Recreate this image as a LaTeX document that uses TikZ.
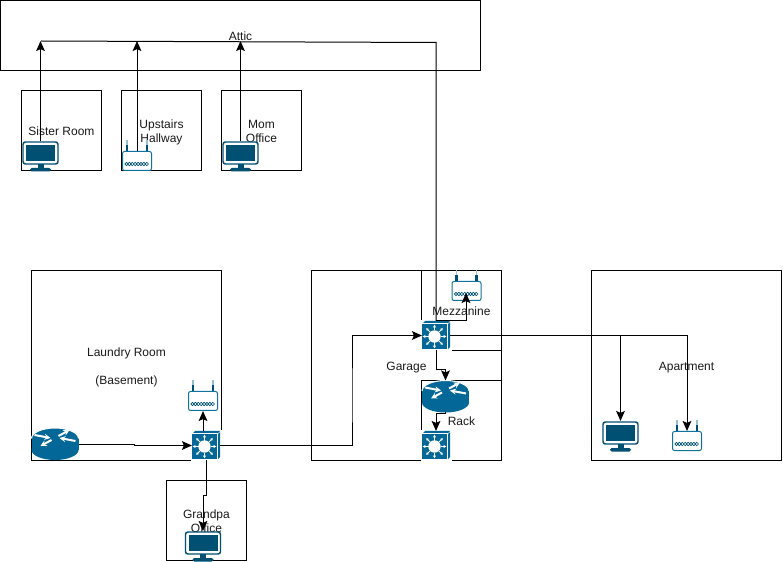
\documentclass[tikz,border=0pt]{standalone}
\usepackage{fontspec}
\setmainfont{Liberation Sans}
\usepackage{xcolor}
\usetikzlibrary{arrows.meta}

\definecolor{ciscoblue}{HTML}{036897}
\definecolor{monitorblue}{HTML}{005073}
\definecolor{wifiblue}{HTML}{10739E}

\begin{document}
\begin{tikzpicture}[
    x=0.75pt, y=-0.75pt,
    room/.style={rectangle, draw, line width=0.75pt, align=center, inner sep=0pt, text=black!90,
        font=\fontsize{9}{10.5}\selectfont,
        execute at begin node={\rule{0pt}{11pt}}, execute at end node={\rule[-3pt]{0pt}{3pt}}},
    smallroom/.style={room, minimum width=60pt, minimum height=60pt},
    bigroom/.style={room, minimum width=142.5pt, minimum height=142.5pt},
    roomtext/.style={room, draw=none},
    arrow/.style={-{Stealth[inset=1.4pt, length=7.5pt, width=6.5pt]}, line width=0.75pt},
    wire/.style={line width=0.75pt},
    iconbox/.style={rectangle, anchor=north west, inner sep=0pt, outer sep=0pt},
    pics/monitor/.style={code={
        \node[iconbox, minimum width=27.75pt, minimum height=22.5pt] (-box) at (0,0) {};
        \draw[monitorblue, line width=1.1pt, fill=white, rounded corners=1.8pt] (1,1) rectangle (36,23);
        \fill[monitorblue] (4,4) rectangle (33,20);
        \fill[monitorblue] (15.5,23) rectangle (21.5,27);
        \fill[monitorblue, rounded corners=1.2pt] (8,27) rectangle (29,30.5);
    }},
    pics/wifi/.style={code={
        \node[iconbox, minimum width=22.5pt, minimum height=15pt] (-box) at (0,0) {};
        \foreach \ax in {5,25} {
            \fill[wifiblue!45] (\ax-0.8,-11) rectangle (\ax+0.8,-6);
            \fill[monitorblue] (\ax-1.1,-6) rectangle (\ax+1.1,0);
        }
        \draw[wifiblue, line width=0.75pt, fill=white, rounded corners=1.5pt] (0.5,0.5) rectangle (29.5,19.5);
        \foreach \wx in {4.5,7.4,...,25.5}
            \draw[monitorblue, line width=0.5pt] (\wx,13) circle (1.7);
    }},
    pics/netswitch/.style={code={
        \node[iconbox, minimum width=21pt, minimum height=21.75pt] (-box) at (0,0) {};
        \fill[white] (-1,-1) rectangle (29.5,30);
        \fill[ciscoblue] (0,3) rectangle (25,28);
        \fill[ciscoblue] (3,0) -- (28,0) -- (26,2) -- (1,2) -- cycle;
        \fill[ciscoblue] (28,1) -- (28,26) -- (26,28) -- (26,3) -- cycle;
        \foreach \ang in {0,45,...,315}
            \draw[white, line width=0.6pt, -{Stealth[length=2.2pt, width=2.4pt]}] (12.5,15.5) ++(\ang:6) -- ++(\ang:5.8);
        \fill[white] (12.5,15.5) circle (6.2);
    }},
    pics/netrouter/.style={code={
        \node[iconbox, minimum width=35.25pt, minimum height=24pt] (-box) at (0,0) {};
        \fill[ciscoblue] (0,10) rectangle (47,22);
        \fill[ciscoblue] (23.5,22) ellipse [x radius=23.5, y radius=10];
        \fill[ciscoblue] (23.5,10) ellipse [x radius=23.5, y radius=10];
        \draw[white, line width=0.8pt] (0,10.5) arc [start angle=180, end angle=360, x radius=23.5, y radius=10.5];
        \foreach \sx/\sy/\ex/\ey in {3/7/19/10, 44/13/28/10, 27/8/38/2, 20/12/9/18}
            \draw[white, line width=1.5pt, -{Stealth[length=4.5pt, width=4.5pt]}] (\sx,\sy) -- (\ex,\ey);
    }}
]

% rooms
\node[room, minimum width=360pt, minimum height=52.5pt] (attic) at (240.5,35.5) {Attic};
\node[smallroom] (sisterroom) at (61.5,130.5) {Sister Room};
\node[smallroom] (upstairs) at (161.5,130.5) {};
\node[roomtext] (upstairslabel) at (161.5,133.5) {Upstairs\\ Hallway};
\node[smallroom] (momoffice) at (261.5,130.5) {};
\node[roomtext] (momlabel) at (261.5,133.5) {Mom\\ Office};
\node[bigroom] (laundry) at (126.5,365.5) {};
\node[roomtext] (laundrylabel) at (126.5,368.5) {Laundry Room\\ \\ (Basement)};
\node[bigroom] (garage) at (406.5,365.5) {Garage};
\node[bigroom] (apartment) at (686.5,365.5) {Apartment};
\node[smallroom] (mezzanine) at (461.5,310.5) {Mezzanine};
\node[smallroom] (rack) at (461.5,420.5) {Rack};
\node[smallroom] (grandpa) at (206.5,520.5) {};
\node[roomtext] (grandpalabel) at (206.5,523.5) {Grandpa\\ Office};

% devices
\pic (sistermon) at (22,141) {monitor};
\pic (upwifi) at (122,151) {wifi};
\pic (mommon) at (222,141) {monitor};
\pic (mainrouter) at (31.5,428) {netrouter};
\pic (laundrysw) at (192,431) {netswitch};
\pic (laundrywifi) at (188,391) {wifi};
\pic (grandpamon) at (184.5,531) {monitor};
\pic (mezzsw) at (422,321) {netswitch};
\pic (mezzwifi) at (451.5,281) {wifi};
\pic (rackrouter) at (422,380.5) {netrouter};
\pic (racksw) at (422,431) {netswitch};
\pic (aptmon) at (602,421) {monitor};
\pic (aptwifi) at (672,431) {wifi};

\coordinate (atticdrop) at (436,42.5);
\coordinate (atticend) at (41,41);
\coordinate (garagejog) at (352,400);
\coordinate (mezzwifitip) at (466,293);

% uplinks to the attic
\draw[wire] (mezzsw-box.north) -- (atticdrop) -- (atticend);
\draw[arrow] (sistermon-box.north) -- (sistermon-box.north |- atticend);
\draw[arrow] (upwifi-box.north) -- (upwifi-box.north |- atticend);
\draw[arrow] (mommon-box.north) -- (mommon-box.north |- atticend);

% laundry
\draw[arrow] (mainrouter-box.east) -- ++(56,0) |- (laundrysw-box.west);
\draw[arrow] (laundrysw-box.north -| laundrywifi-box.south) -- (laundrywifi-box.south);
\draw[arrow] (laundrysw-box.south) -- ++(0,35.5) -| (grandpamon-box.north);
\draw[arrow] (laundrysw-box.east) -| (garagejog) |- (mezzsw-box.west);

% garage
\draw[arrow] (mezzsw-box.north) -| (mezzwifitip);
\draw[arrow] (mezzsw-box.south) -- ++(0,20) -| (rackrouter-box.north);
\draw[arrow] (rackrouter-box.south) -- ++(0,1) -| (racksw-box.north);

% apartment
\draw[arrow] (mezzsw-box.east) -| (aptmon-box.north);
\draw[arrow] (mezzsw-box.east) -| (aptwifi-box.north);

\useasboundingbox (0,0) rectangle (783,561);
\end{tikzpicture}
\end{document}
